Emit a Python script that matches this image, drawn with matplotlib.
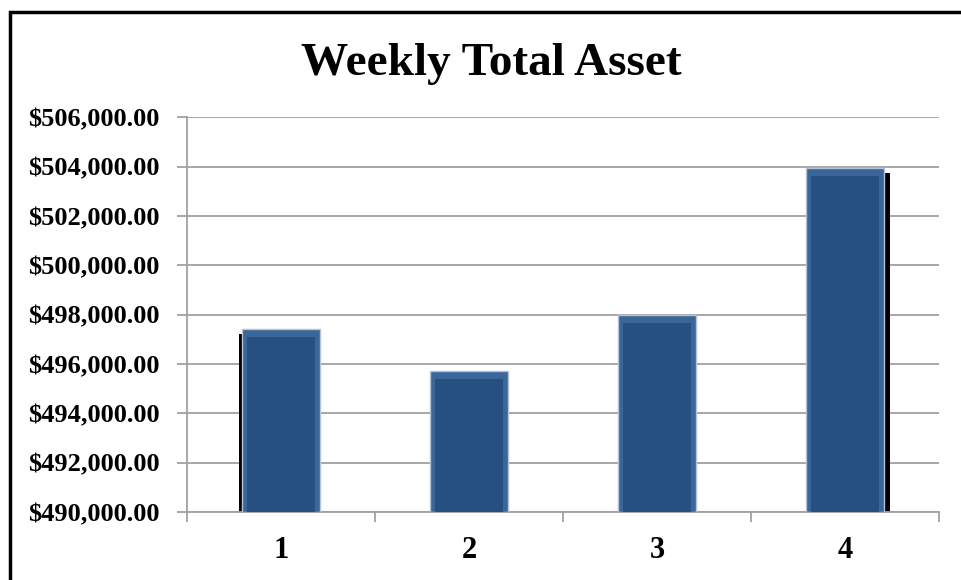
import matplotlib.pyplot as plt
from matplotlib.patches import Rectangle
from matplotlib.ticker import FuncFormatter

# data
weeks = ["1", "2", "3", "4"]
total_asset = [497420, 495730, 497980, 503930]
y_ticks = list(range(490000, 506001, 2000))

BASE = 490000
BAR_W = 0.42
plt.rcParams["font.family"] = ["Liberation Serif", "DejaVu Serif"]

fig = plt.figure(figsize=(9.61, 5.80), dpi=100)
ax = fig.add_axes([0.1946, 0.117, 0.7825, 0.681])

x = list(range(len(weeks)))

# drop shadows (left on the first bar, right on the last)
shadow_dx = [-0.016, 0.0, 0.0, 0.032]
for xi, v, dx in zip(x, total_asset, shadow_dx):
    ax.bar(xi + dx, v - BASE - 150, BAR_W, bottom=BASE - 40, color="black", zorder=2)

# bevelled bars: light rim + darker core
heights = [v - BASE for v in total_asset]
ax.bar(x, heights, BAR_W, bottom=BASE, color="#3A6699", edgecolor="#B4C2D6",
       linewidth=1.0, zorder=3)
ax.bar(x, [h - 330 for h in heights], BAR_W * 0.86, bottom=BASE, color="#26507F",
       linewidth=0, zorder=4)

ax.set_xlim(-0.5, len(weeks) - 0.5)
ax.set_ylim(BASE, 506000)
ax.set_yticks(y_ticks)
ax.yaxis.set_major_formatter(FuncFormatter(lambda v, p: f"${v:,.2f}"))
ax.set_xticks(x)
ax.set_xticklabels(weeks)
ax.set_xticks([i - 0.5 for i in range(len(weeks) + 1)], minor=True)

ax.grid(axis="y", color="#A0A0A0", linewidth=1.3, zorder=0)
ax.set_axisbelow(True)
for side in ["top", "right"]:
    ax.spines[side].set_visible(False)
for side in ["left", "bottom"]:
    ax.spines[side].set_color("#A0A0A0")
    ax.spines[side].set_linewidth(1.3)

ax.tick_params(axis="y", which="major", length=7, width=1.3, color="#A0A0A0",
               pad=13, labelsize=19)
ax.tick_params(axis="x", which="major", length=0, pad=17, labelsize=22)
ax.tick_params(axis="x", which="minor", length=7, width=1.3, color="#A0A0A0")
for lbl in ax.get_yticklabels() + ax.get_xticklabels():
    lbl.set_fontweight("bold")

fig.text(491 / 961, 1 - 75 / 580, "Weekly Total Asset", ha="center", va="baseline",
         fontsize=34, fontweight="bold")

# chart frame, only the top and left edges are inside the picture
fig.patches.append(Rectangle((9.5 / 961, -0.1), 1.2, 1 - 11.5 / 580 + 0.1,
                             transform=fig.transFigure, fill=False,
                             edgecolor="black", linewidth=2.5))

fig.savefig("out.png", dpi=100)
